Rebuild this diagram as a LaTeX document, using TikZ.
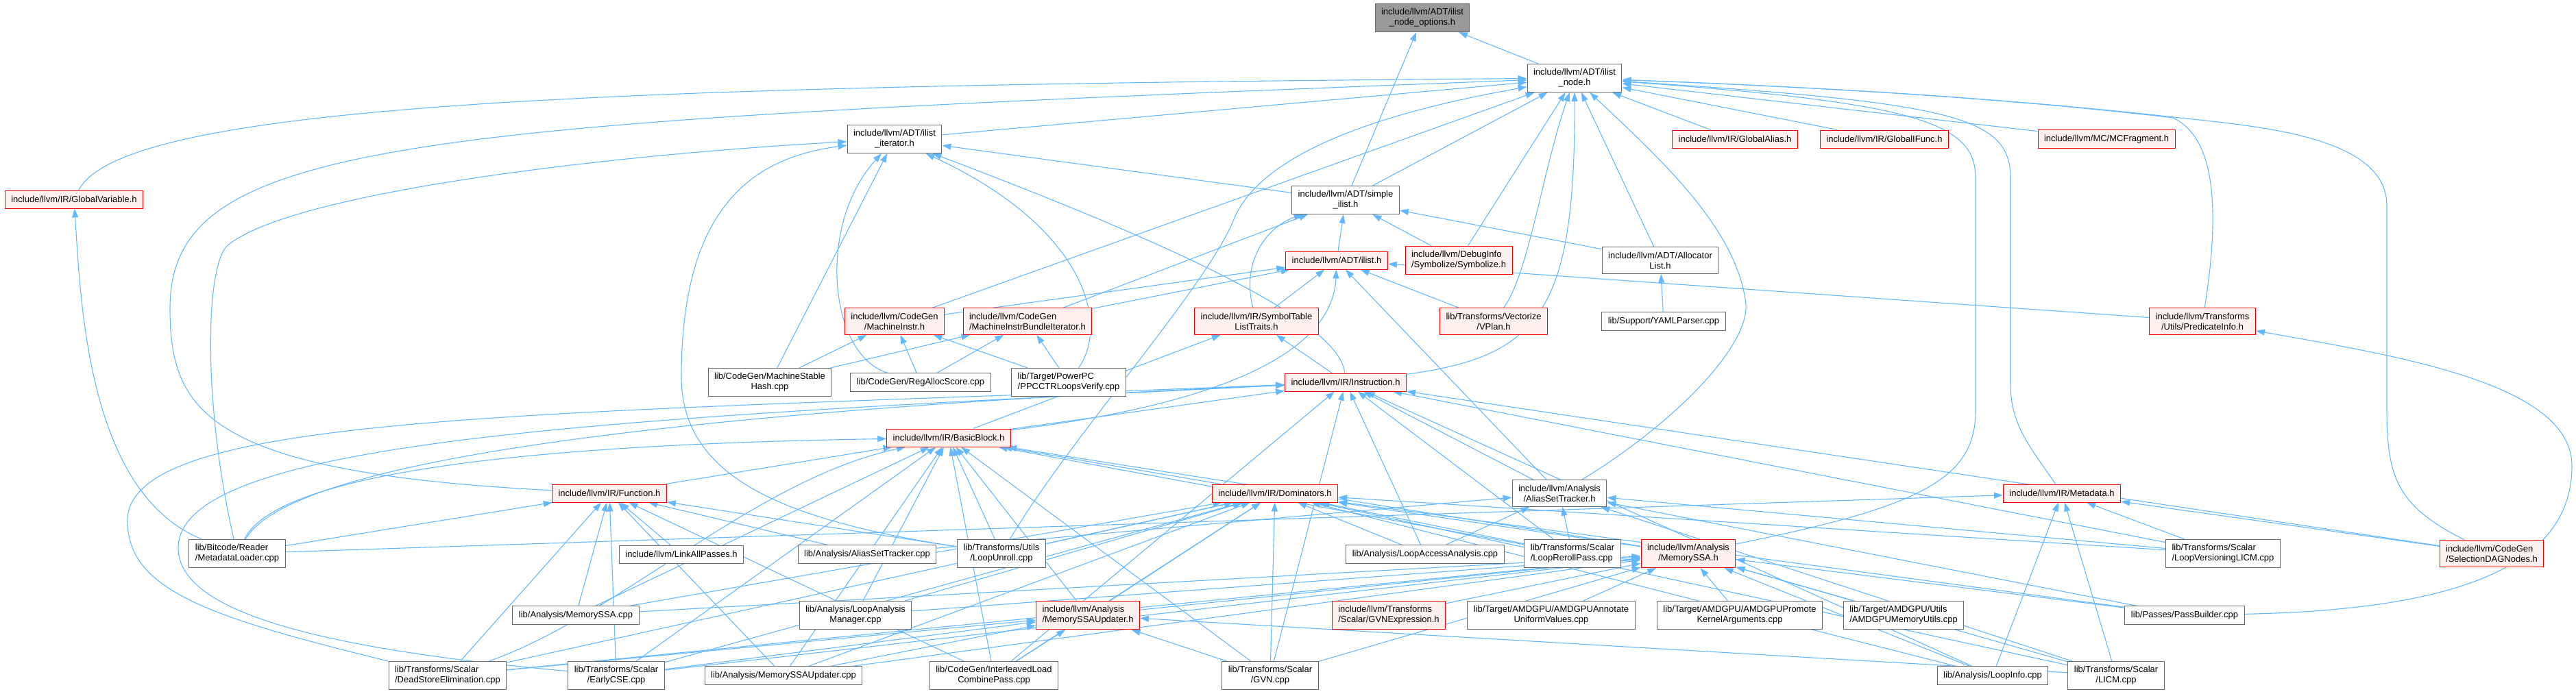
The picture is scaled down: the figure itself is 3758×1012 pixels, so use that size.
\documentclass[tikz,border=0pt]{standalone}
\usepackage{fontspec}
\setmainfont{Liberation Sans}
\usetikzlibrary{
	arrows.meta,
	backgrounds
}
\definecolor{edgeblue}{HTML}{63B8FF}
\definecolor{truncfill}{HTML}{FFF0F0}
\definecolor{boxgrey}{HTML}{666666}
\definecolor{rootgrey}{HTML}{999999}

\begin{document}
\begin{tikzpicture}[
		x=1pt, y=-1pt,
		file/.style={draw=boxgrey, fill=white, line width=1pt, inner xsep=9pt, inner ysep=7pt, minimum height=26pt, align=center, font=\fontsize{13}{15}\selectfont},
		trunc/.style={file, draw=red, fill=truncfill},
		root/.style={file, fill=rootgrey},
		lft/.style={align=left},
		incl/.style={-{Triangle[length=13pt,width=9pt]}, color=edgeblue, line width=1.1pt}
		]
		
		\useasboundingbox (0,0) rectangle (3758,1012);
		
		\node[root] (opts) at (2075,26) {include/llvm/ADT/ilist\\\_node\_options.h};
		\node[file] (inode) at (2297,114) {include/llvm/ADT/ilist\\\_node.h};
		
		\node[file] (iiter) at (1305,203) {include/llvm/ADT/ilist\\\_iterator.h};
		\node[trunc] (galias) at (2531,203) {include/llvm/IR/GlobalAlias.h};
		\node[trunc] (gifunc) at (2749,203) {include/llvm/IR/GlobalIFunc.h};
		\node[trunc] (mcfrag) at (3073,203) {include/llvm/MC/MCFragment.h};
		
		\node[trunc] (gvar) at (108,291) {include/llvm/IR/GlobalVariable.h};
		\node[file] (silist) at (1963,292) {include/llvm/ADT/simple\\\_ilist.h};
		
		\node[trunc] (ilist) at (1950,380) {include/llvm/ADT/ilist.h};
		\node[trunc, lft] (symbolize) at (2128,380) {include/llvm/DebugInfo\\/Symbolize/Symbolize.h};
		\node[file] (alloclist) at (2422,380) {include/llvm/ADT/Allocator\\List.h};
		
		\node[trunc] (minstr) at (1305,469) {include/llvm/CodeGen\\/MachineInstr.h};
		\node[trunc, lft] (mibi) at (1499,469) {include/llvm/CodeGen\\/MachineInstrBundleIterator.h};
		\node[trunc] (symtab) at (1833,469) {include/llvm/IR/SymbolTable\\ListTraits.h};
		\node[trunc] (vplan) at (2179,469) {lib/Transforms/Vectorize\\/VPlan.h};
		\node[file] (yaml) at (2427,469) {lib/Support/YAMLParser.cpp};
		\node[trunc] (predinfo) at (3213,469) {include/llvm/Transforms\\/Utils/PredicateInfo.h};
		
		\node[file] (mshash) at (1123,558) {lib/CodeGen/MachineStable\\Hash.cpp};
		\node[file] (regalloc) at (1343,558) {lib/CodeGen/RegAllocScore.cpp};
		\node[file, lft] (ppcctr) at (1559,558) {lib/Target/PowerPC\\/PPCCTRLoopsVerify.cpp};
		\node[trunc] (instr) at (1963,558) {include/llvm/IR/Instruction.h};
		
		\node[trunc] (bblock) at (1384,639) {include/llvm/IR/BasicBlock.h};
		
		\node[trunc] (func) at (889,720) {include/llvm/IR/Function.h};
		\node[trunc] (domin) at (1860,720) {include/llvm/IR/Dominators.h};
		\node[file] (astrk) at (2275,720) {include/llvm/Analysis\\/AliasSetTracker.h};
		\node[trunc] (mdata) at (3008,720) {include/llvm/IR/Metadata.h};
		
		\node[file, lft] (mdload) at (346,808) {lib/Bitcode/Reader\\/MetadataLoader.cpp};
		\node[file] (linkall) at (994,809) {include/llvm/LinkAllPasses.h};
		\node[file] (astrkcpp) at (1265,809) {lib/Analysis/AliasSetTracker.cpp};
		\node[file] (unroll) at (1461,808) {lib/Transforms/Utils\\/LoopUnroll.cpp};
		\node[file] (laa) at (2079,809) {lib/Analysis/LoopAccessAnalysis.cpp};
		\node[file, lft] (reroll) at (2294,808) {lib/Transforms/Scalar\\/LoopRerollPass.cpp};
		\node[trunc] (mssa) at (2463,808) {include/llvm/Analysis\\/MemorySSA.h};
		\node[file, lft] (lvlicm) at (3243,808) {lib/Transforms/Scalar\\/LoopVersioningLICM.cpp};
		\node[trunc, lft] (sdag) at (3635,808) {include/llvm/CodeGen\\/SelectionDAGNodes.h};
		
		\node[file] (mssacpp) at (840,898) {lib/Analysis/MemorySSA.cpp};
		\node[file] (lam) at (1248,898) {lib/Analysis/LoopAnalysis\\Manager.cpp};
		\node[trunc, lft] (mssau) at (1587,898) {include/llvm/Analysis\\/MemorySSAUpdater.h};
		\node[trunc, lft] (gvnexpr) at (2026,898) {include/llvm/Transforms\\/Scalar/GVNExpression.h};
		\node[file] (amdannot) at (2263,898) {lib/Target/AMDGPU/AMDGPUAnnotate\\UniformValues.cpp};
		\node[file] (amdpromo) at (2538,898) {lib/Target/AMDGPU/AMDGPUPromote\\KernelArguments.cpp};
		\node[file, lft] (amdmem) at (2777,898) {lib/Target/AMDGPU/Utils\\/AMDGPUMemoryUtils.cpp};
		\node[file] (passb) at (3187,898) {lib/Passes/PassBuilder.cpp};
		
		\node[file, lft] (dse) at (653,986) {lib/Transforms/Scalar\\/DeadStoreElimination.cpp};
		\node[file] (ecse) at (899,986) {lib/Transforms/Scalar\\/EarlyCSE.cpp};
		\node[file] (mssaucpp) at (1143,986) {lib/Analysis/MemorySSAUpdater.cpp};
		\node[file] (ilcomb) at (1450,986) {lib/CodeGen/InterleavedLoad\\CombinePass.cpp};
		\node[file] (gvn) at (1853,986) {lib/Transforms/Scalar\\/GVN.cpp};
		\node[file] (loopinfo) at (2907,986) {lib/Analysis/LoopInfo.cpp};
		\node[file] (licm) at (3087,986) {lib/Transforms/Scalar\\/LICM.cpp};
		
		\begin{scope}[on background layer]
		\draw[incl] (inode) -- (opts);
		\draw[incl] (silist) -- (opts);
		\draw[incl] (iiter) -- (inode);
		\draw[incl] (silist) -- (inode);
		\draw[incl] (silist) -- (iiter);
		\draw[incl] (galias) -- (inode);
		\draw[incl] (gifunc) -- (inode);
		\draw[incl] (mcfrag) -- (inode);
		\draw[incl] (gvar) .. controls (180,150) and (900,125) .. (inode);
		\draw[incl] (ilist) -- (silist);
		\draw[incl] (symbolize) -- (inode);
		\draw[incl] (symbolize) -- (silist);
		\draw[incl] (alloclist) -- (inode);
		\draw[incl] (alloclist) -- (silist);
		\draw[incl] (yaml) -- (alloclist);
		\draw[incl] (vplan) -- (ilist);
		\draw[incl] (vplan) .. controls (2230,400) and (2250,250) .. (inode);
		\draw[incl] (minstr) -- (inode);
		\draw[incl] (minstr) -- (ilist);
		\draw[incl] (mibi) -- (ilist);
		\draw[incl] (mibi) -- (silist);
		\draw[incl] (symtab) -- (ilist);
		\draw[incl] (symtab) .. controls (1810,380) and (1850,330) .. (silist);
		\draw[incl] (predinfo) -- (ilist);
		\draw[incl] (predinfo) .. controls (3240,300) and (3230,200) .. (3170,172) .. controls (2900,140) and (2600,125) .. (inode);
		
		\draw[incl] (mshash) -- (minstr);
		\draw[incl] (mshash) -- (mibi);
		\draw[incl] (mshash) -- (iiter);
		\draw[incl] (regalloc) -- (minstr);
		\draw[incl] (regalloc) -- (mibi);
		\draw[incl] (regalloc) .. controls (1210,520) and (1190,330) .. (iiter);
		\draw[incl] (ppcctr) -- (minstr);
		\draw[incl] (ppcctr) -- (mibi);
		\draw[incl] (ppcctr) .. controls (1620,470) and (1580,330) .. (iiter);
		\draw[incl] (instr) -- (symtab);
		\draw[incl] (instr) .. controls (1955,470) and (1720,360) .. (iiter);
		\draw[incl] (instr) .. controls (2250,520) and (2298,450) .. (inode);
		
		\draw[incl] (bblock) .. controls (1700,600) and (1943,540) .. (ilist);
		\draw[incl] (bblock) -- (symtab);
		\draw[incl] (bblock) -- (instr);
		
		\draw[incl] (func) .. controls (300,690) and (248,600) .. (248,450) .. controls (248,200) and (600,180) .. (inode);
		\draw[incl] (func) -- (bblock);
		\draw[incl] (domin) -- (bblock);
		\draw[incl] (astrk) -- (ilist);
		\draw[incl] (astrk) .. controls (2440,620) and (2560,500) .. (2546,437) .. controls (2530,330) and (2420,230) .. (inode);
		\draw[incl] (astrk) -- (instr);
		\draw[incl] (mdata) .. controls (2960,650) and (2933,620) .. (2933,560) -- (2933,260) .. controls (2933,170) and (2850,150) .. (inode);
		
		\draw[incl] (mdload) .. controls (130,720) and (118,450) .. (gvar);
		\draw[incl] (mdload) .. controls (298,600) and (298,400) .. (330,360) .. controls (420,280) and (900,225) .. (iiter);
		\draw[incl] (mdload) -- (func);
		\draw[incl] (mdload) .. controls (400,700) and (700,650) .. (bblock);
		\draw[incl] (mdload) .. controls (420,680) and (900,605) .. (instr);
		\draw[incl] (mdload) -- (mdata);
		\draw[incl] (linkall) -- (func);
		\draw[incl] (astrkcpp) -- (func);
		\draw[incl] (astrkcpp) -- (astrk);
		\draw[incl] (unroll) .. controls (1150,760) and (994,700) .. (994,550) .. controls (994,300) and (1100,230) .. (iiter);
		\draw[incl] (unroll) .. controls (1560,640) and (1760,420) .. (1800,320) .. controls (1850,200) and (2100,150) .. (inode);
		\draw[incl] (unroll) -- (bblock);
		\draw[incl] (unroll) -- (domin);
		\draw[incl] (unroll) -- (func);
		\draw[incl] (laa) -- (astrk);
		\draw[incl] (laa) -- (domin);
		\draw[incl] (laa) -- (instr);
		\draw[incl] (reroll) -- (astrk);
		\draw[incl] (reroll) -- (domin);
		\draw[incl] (reroll) -- (bblock);
		\draw[incl] (reroll) -- (instr);
		\draw[incl] (mssa) .. controls (2800,740) and (2882,700) .. (2882,600) -- (2882,260) .. controls (2882,180) and (2800,150) .. (inode);
		\draw[incl] (mssa) -- (domin);
		\draw[incl] (mssa) -- (bblock);
		\draw[incl] (lvlicm) -- (astrk);
		\draw[incl] (lvlicm) -- (mdata);
		\draw[incl] (lvlicm) -- (domin);
		\draw[incl] (lvlicm) -- (instr);
		\draw[incl] (sdag) .. controls (3500,740) and (3482,700) .. (3482,600) -- (3482,300) .. controls (3482,200) and (3300,185) .. (3180,172) .. controls (2900,140) and (2600,125) .. (inode);
		\draw[incl] (sdag) -- (mdata);
		\draw[incl] (sdag) -- (instr);
		
		\draw[incl] (mssacpp) -- (func);
		\draw[incl] (mssacpp) -- (mssa);
		\draw[incl] (mssacpp) -- (domin);
		\draw[incl] (mssacpp) -- (bblock);
		\draw[incl] (lam) -- (domin);
		\draw[incl] (lam) -- (mssa);
		\draw[incl] (lam) -- (bblock);
		\draw[incl] (mssau) -- (mssa);
		\draw[incl] (mssau) -- (domin);
		\draw[incl] (mssau) -- (bblock);
		\draw[incl] (gvnexpr) -- (mssa);
		\draw[incl] (amdannot) -- (mssa);
		\draw[incl] (amdpromo) -- (mssa);
		\draw[incl] (amdmem) -- (mssa);
		\draw[incl] (passb) -- (mssa);
		\draw[incl] (passb) .. controls (3600,890) and (3752,820) .. (3752,680) .. controls (3752,560) and (3500,520) .. (predinfo);
		\draw[incl] (passb) -- (astrk);
		\draw[incl] (passb) -- (domin);
		
		\draw[incl] (dse) -- (func);
		\draw[incl] (dse) .. controls (900,900) and (1100,700) .. (bblock);
		\draw[incl] (dse) -- (domin);
		\draw[incl] (dse) -- (mssa);
		\draw[incl] (dse) -- (mssau);
		\draw[incl] (dse) .. controls (300,900) and (186,860) .. (186,760) .. controls (186,600) and (800,605) .. (instr);
		\draw[incl] (ecse) -- (func);
		\draw[incl] (ecse) -- (bblock);
		\draw[incl] (ecse) -- (domin);
		\draw[incl] (ecse) -- (mssa);
		\draw[incl] (ecse) -- (mssau);
		\draw[incl] (ecse) .. controls (500,950) and (260,900) .. (260,800) .. controls (260,640) and (900,610) .. (instr);
		\draw[incl] (mssaucpp) -- (mssau);
		\draw[incl] (mssaucpp) -- (mssa);
		\draw[incl] (mssaucpp) -- (domin);
		\draw[incl] (mssaucpp) -- (bblock);
		\draw[incl] (mssaucpp) -- (func);
		\draw[incl] (ilcomb) -- (mssau);
		\draw[incl] (ilcomb) -- (domin);
		\draw[incl] (ilcomb) -- (bblock);
		\draw[incl] (ilcomb) -- (instr);
		\draw[incl] (ilcomb) -- (func);
		\draw[incl] (gvn) -- (mssa);
		\draw[incl] (gvn) -- (mssau);
		\draw[incl] (gvn) -- (domin);
		\draw[incl] (gvn) -- (bblock);
		\draw[incl] (gvn) -- (instr);
		\draw[incl] (loopinfo) -- (domin);
		\draw[incl] (loopinfo) -- (mssa);
		\draw[incl] (loopinfo) -- (mdata);
		\draw[incl] (loopinfo) -- (instr);
		\draw[incl] (licm) -- (mssa);
		\draw[incl] (licm) -- (mssau);
		\draw[incl] (licm) -- (astrk);
		\draw[incl] (licm) -- (domin);
		\draw[incl] (licm) -- (mdata);
		\end{scope}
		
	\end{tikzpicture}
\end{document}
